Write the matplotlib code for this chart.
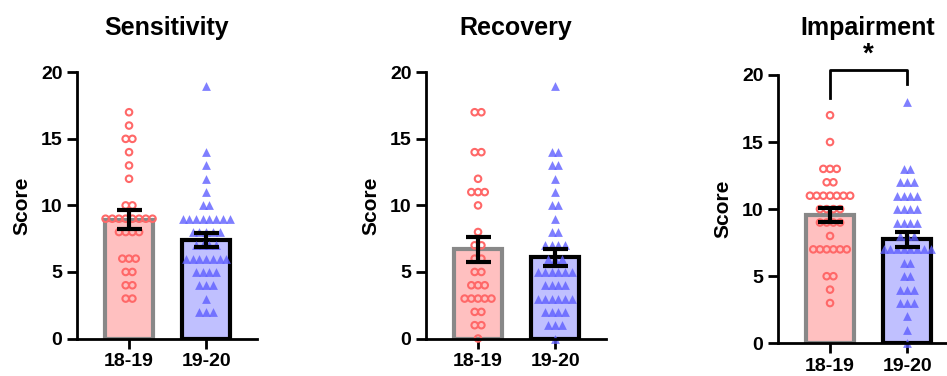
import matplotlib.pyplot as plt
import numpy as np

plt.rcParams['font.family'] = ['Liberation Sans', 'DejaVu Sans']
plt.rcParams['font.weight'] = 'bold'
plt.rcParams['axes.labelweight'] = 'bold'

# scores
groups = ['18-19', '19-20']
titles = ['Sensitivity', 'Recovery', 'Impairment']

sens_1819 = [17, 16, 15, 15, 14, 13, 12, 10, 10, 9, 9, 9, 9, 9, 9, 9, 9,
             8, 8, 8, 8, 6, 6, 6, 5, 5, 4, 4, 3, 3]
sens_1920 = [19, 14, 13, 12, 11, 10, 10, 9, 9, 9, 9, 9, 9, 9, 9,
             8, 8, 8, 8, 8, 7, 7, 7, 7, 6, 6, 6, 6, 6, 6, 6,
             5, 5, 5, 5, 4, 4, 4, 3, 2, 2, 2]
rec_1819 = [17, 17, 14, 14, 12, 11, 11, 11, 10, 8, 7, 7, 6, 6, 5, 5,
            4, 4, 4, 3, 3, 3, 3, 3, 2, 2, 1, 1, 0]
rec_1920 = [19, 14, 14, 13, 13, 12, 11, 10, 10, 9, 8, 8, 7, 7, 7, 7,
            6, 6, 6, 5, 5, 5, 5, 5, 5, 4, 4, 4, 4, 3, 3, 3, 3, 3, 3,
            2, 2, 2, 2, 1, 1, 1, 0]
imp_1819 = [17, 15, 13, 13, 13, 12, 12, 11, 11, 11, 11, 11, 11, 11,
            10, 10, 10, 10, 9, 9, 9, 9, 8, 7, 7, 7, 7, 7, 7, 5, 5, 4, 3]
imp_1920 = [18, 13, 13, 12, 12, 12, 11, 11, 11, 11, 10, 10, 10, 10,
            9, 9, 9, 9, 8, 8, 8, 7, 7, 7, 7, 7, 7, 7, 7, 6, 6, 5, 5,
            4, 4, 4, 3, 3, 3, 2, 1, 0]

data = [(sens_1819, sens_1920), (rec_1819, rec_1920), (imp_1819, imp_1920)]

bar_fc = ['#FFC0C0', '#C0C0FF']
bar_ec = ['#888888', 'black']


def swarm(vals, step=0.087):
    # spread equal values side by side, centred on the category
    vals = np.asarray(vals)
    offs = np.zeros(len(vals))
    for v in np.unique(vals):
        idx = np.where(vals == v)[0]
        k = len(idx)
        offs[idx] = (np.arange(k) - (k - 1) / 2) * step
    return offs


fig = plt.figure(figsize=(9.47, 3.76), dpi=100)
boxes = [[77 / 947, 0.0997, 180 / 947, 0.708],
         [426 / 947, 0.0997, 180 / 947, 0.708],
         [778 / 947, 0.087, 180 / 947, 0.7136]]

for p in range(3):
    ax = fig.add_axes(boxes[p])
    for i in range(2):
        vals = np.array(data[p][i])
        m = vals.mean()
        sem = vals.std(ddof=1) / np.sqrt(len(vals))
        ax.bar(i, m, width=0.62, color=bar_fc[i], edgecolor=bar_ec[i],
               linewidth=3, zorder=1)
        x = i + swarm(vals)
        if i == 0:
            ax.scatter(x, vals, s=22, facecolors='none', edgecolors='#FF6868',
                       linewidths=1.5, zorder=2, clip_on=False)
        else:
            ax.scatter(x, vals, s=40, marker='^', color='#5F5FFF', alpha=0.8,
                       linewidths=0, zorder=2, clip_on=False)
        ax.errorbar(i, m, yerr=sem, color='black', capsize=9, capthick=3,
                    elinewidth=3, zorder=3)

    ax.set_xlim(-0.675, 1.66)
    ax.set_ylim(0, 20)
    ax.set_yticks([0, 5, 10, 15, 20])
    ax.set_xticks([0, 1])
    ax.set_xticklabels(groups)
    for s in ['top', 'right']:
        ax.spines[s].set_visible(False)
    for s in ['left', 'bottom']:
        ax.spines[s].set_linewidth(2)
    ax.tick_params(width=2, length=7, labelsize=14)
    ax.set_ylabel('Score', fontsize=15, labelpad=7)
    ax.set_title(titles[p], fontsize=18, fontweight='bold',
                 pad=28.8 if p == 2 else 26.5)

    if p == 2:
        ax.plot([0, 0, 1, 1], [18.3, 20.4, 20.4, 19.3], color='black', lw=2,
                clip_on=False)
        ax.text(0.5, 21.5, '*', ha='center', va='center', fontsize=20,
                fontweight='bold', clip_on=False)

fig.savefig('out.png', dpi=100)
